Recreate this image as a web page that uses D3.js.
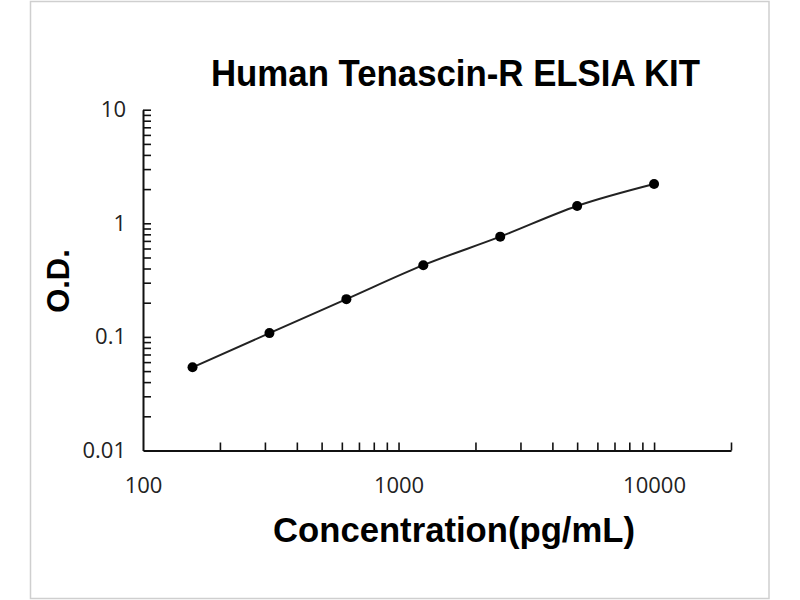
<!DOCTYPE html>
<html>
<head>
<meta charset="utf-8">
<script src="https://cdn.jsdelivr.net/npm/d3@7"></script>
<style>
  html, body { margin: 0; padding: 0; background: #fff; }
  svg { display: block; }
</style>
</head>
<body>
<svg id="chart" width="800" height="600"></svg>
<script>
const titleText = "Human Tenascin-R ELSIA KIT";
const xTitle = "Concentration(pg/mL)";
const yTitle = "O.D.";
const concentrations = [156.25, 312.5, 625, 1250, 2500, 5000, 10000];
const odValues = [0.054, 0.108, 0.215, 0.428, 0.763, 1.42, 2.215];
const xMajorTicks = [100, 1000, 10000];
const yMajorTicks = [0.01, 0.1, 1, 10];
const xDomain = [100, 20000];
const yDomain = [0.01, 10];

const svg = d3.select("#chart");

// outer frame
svg.append("rect")
  .attr("x", 30.5).attr("y", 1.5)
  .attr("width", 738.5).attr("height", 597)
  .attr("fill", "#fff").attr("stroke", "#cfcfcf").attr("stroke-width", 1.5);

const x = d3.scaleLog().domain(xDomain).range([143, 731]);
const y = d3.scaleLog().domain(yDomain).range([450.5, 109.7]);

const xTicks = x.ticks().filter(v => v >= xDomain[0] && v <= xDomain[1]);
const yTicks = y.ticks();

const xAxis = d3.axisBottom(x)
  .tickValues(xTicks)
  .tickSizeInner(-8).tickSizeOuter(0).tickPadding(27)
  .tickFormat(d => xMajorTicks.includes(d) ? String(d) : "");

const yAxis = d3.axisLeft(y)
  .tickValues(yTicks)
  .tickSizeInner(-8).tickSizeOuter(0).tickPadding(17)
  .tickFormat(d => yMajorTicks.includes(d) ? String(d) : "");

const gx = svg.append("g").attr("transform", `translate(0,${y(yDomain[0])})`).call(xAxis);
const gy = svg.append("g").attr("transform", `translate(${x(xDomain[0])},0)`).call(yAxis);

[gx, gy].forEach(g => {
  g.select(".domain").attr("stroke", "#111").attr("stroke-width", 2);
  g.selectAll(".tick line").attr("stroke", "#111").attr("stroke-width", 1.6);
  g.selectAll(".tick text")
    .attr("fill", "#222")
    .style("font-family", "'Open Sans', 'Liberation Sans', sans-serif")
    .style("font-size", "22px");
});
gx.selectAll(".tick").filter(d => d === xDomain[0]).select("line").remove();
gy.selectAll(".tick").filter(d => d === yDomain[0]).select("line").remove();

// curve
const data = concentrations.map((c, i) => ({c, v: odValues[i]}));
const line = d3.line()
  .x(d => x(d.c)).y(d => y(d.v))
  .curve(d3.curveMonotoneX);
svg.append("path").datum(data)
  .attr("d", line)
  .attr("fill", "none").attr("stroke", "#222").attr("stroke-width", 2);

svg.selectAll("circle.pt").data(data).enter().append("circle")
  .attr("class", "pt")
  .attr("cx", d => x(d.c)).attr("cy", d => y(d.v))
  .attr("r", 5).attr("fill", "#000");

// titles
svg.append("text")
  .attr("x", 211).attr("y", 86)
  .attr("textLength", 489).attr("lengthAdjust", "spacingAndGlyphs")
  .style("font-family", "'Liberation Sans', Arial, sans-serif")
  .style("font-weight", "bold").style("font-size", "37px")
  .attr("fill", "#000")
  .text(titleText);

svg.append("text")
  .attr("x", 273).attr("y", 542)
  .attr("textLength", 362).attr("lengthAdjust", "spacingAndGlyphs")
  .style("font-family", "'Liberation Sans', Arial, sans-serif")
  .style("font-weight", "bold").style("font-size", "35px")
  .attr("fill", "#000")
  .text(xTitle);

svg.append("text")
  .attr("transform", "translate(69,281) rotate(-90)")
  .attr("text-anchor", "middle")
  .style("font-family", "'Liberation Sans', Arial, sans-serif")
  .style("font-weight", "bold").style("font-size", "31px")
  .attr("fill", "#000")
  .text(yTitle);
</script>
</body>
</html>
